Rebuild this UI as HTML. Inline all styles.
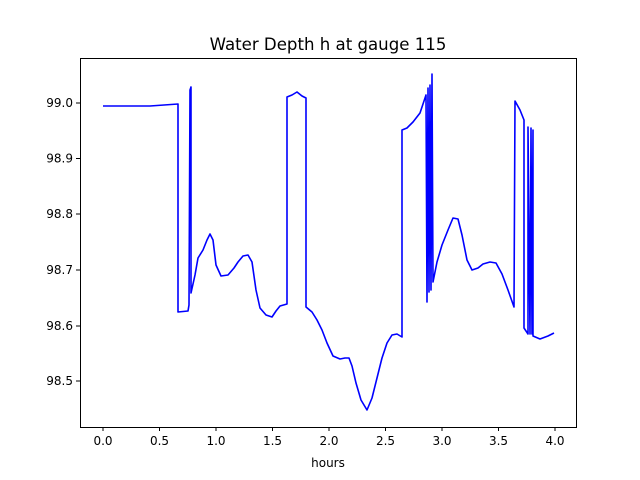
<!DOCTYPE html>
<html><head><style>body{margin:0;background:#fff}svg{display:block}</style></head><body>
<svg width="640" height="480" xmlns="http://www.w3.org/2000/svg" font-family="DejaVu Sans, Liberation Sans, sans-serif">
<rect width="640" height="480" fill="#fff"/>
<path fill="none" stroke="#0000ff" stroke-width="1.6" stroke-linejoin="round" d="M103,106 L150,106 L178,104 L178,312 L188,311 L189,305 L190,90 L191,87 L191,293 L195,275 L198,258 L203,250 L207,240 L210,234 L213,240 L216,265 L221,276 L228,275 L234,268 L238,262 L243,256 L248,255 L252,262 L256,290 L260,308 L266,315 L272,317 L276,311 L280,306 L287,304 L287,97 L292,95 L297,92 L302,96 L306,98 L306,307 L312,312 L317,320 L322,330 L327,343 L333,356 L340,359 L345,358 L349,358 L352,366 L356,383 L361,400 L367,410 L372,398 L377,378 L382,358 L387,343 L392,335 L397,334 L402,337 L402,130 L407,128 L413,122 L420,113 L426,95 L427,302 L428,88 L429,292 L430,85 L431,290 L432,74 L433,282 L437,262 L442,245 L448,230 L453,218 L458,219 L462,235 L467,260 L472,270 L478,268 L483,264 L490,262 L496,263 L502,274 L508,290 L514,307 L515,101 L520,110 L524,120 L524,328 L528,334 L528,127 L530,334 L531,128 L532,334 L533,130 L533,336 L540,339 L548,336 L554,333"/>
<rect x="80.5" y="58.5" width="496" height="369" fill="none" stroke="#000" stroke-width="1"/>
<g stroke="#000" stroke-width="1">
<line x1="103" y1="427" x2="103" y2="431"/><line x1="159.5" y1="427" x2="159.5" y2="431"/><line x1="216" y1="427" x2="216" y2="431"/><line x1="272.5" y1="427" x2="272.5" y2="431"/><line x1="329" y1="427" x2="329" y2="431"/><line x1="385.5" y1="427" x2="385.5" y2="431"/><line x1="442" y1="427" x2="442" y2="431"/><line x1="498.5" y1="427" x2="498.5" y2="431"/><line x1="555" y1="427" x2="555" y2="431"/>
<line x1="76" y1="103" x2="80" y2="103"/><line x1="76" y1="158.5" x2="80" y2="158.5"/><line x1="76" y1="214" x2="80" y2="214"/><line x1="76" y1="270" x2="80" y2="270"/><line x1="76" y1="326" x2="80" y2="326"/><line x1="76" y1="381" x2="80" y2="381"/>
</g>
<g font-size="12" fill="#000" text-anchor="middle">
<text x="103" y="445">0.0</text><text x="159.5" y="445">0.5</text><text x="216" y="445">1.0</text><text x="272.5" y="445">1.5</text><text x="329" y="445">2.0</text><text x="385.5" y="445">2.5</text><text x="442" y="445">3.0</text><text x="498.5" y="445">3.5</text><text x="555" y="445">4.0</text>
<text x="328" y="467">hours</text>
</g>
<g font-size="12" fill="#000" text-anchor="end">
<text x="73" y="107">99.0</text><text x="73" y="162.5">98.9</text><text x="73" y="218">98.8</text><text x="73" y="274">98.7</text><text x="73" y="330">98.6</text><text x="73" y="385">98.5</text>
</g>
<text x="328" y="50" font-size="16.6" text-anchor="middle">Water Depth h at gauge 115</text>
</svg>
</body></html>
